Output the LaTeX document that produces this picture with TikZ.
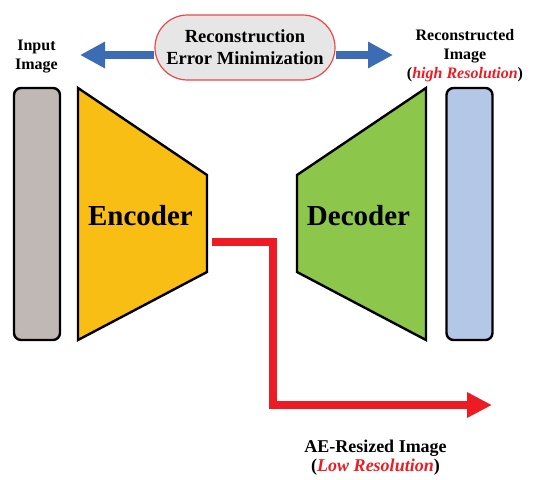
\documentclass[tikz,border=0pt]{standalone}
\usepackage{fontspec}
\setmainfont{Liberation Serif}
\usepackage{xcolor}
\usepackage{tikz}
\usetikzlibrary{positioning,arrows.meta,shapes.misc}

\definecolor{inpgray}{HTML}{BFB8B5}
\definecolor{outblue}{HTML}{B4C7E7}
\definecolor{encyellow}{HTML}{F9BE14}
\definecolor{decgreen}{HTML}{8CC64A}
\definecolor{errblue}{HTML}{3C6DB4}
\definecolor{lowred}{HTML}{ED1C24}
\definecolor{pillgray}{HTML}{E7E6E6}
\definecolor{pillred}{HTML}{E8474C}

\begin{document}
\begin{tikzpicture}[
  x=1pt, y=-1pt,
  every node/.style={align=center},
  img/.style    ={rectangle, rounded corners=7pt, draw=black, line width=2.4pt,
                  minimum width=46pt, minimum height=252pt},
  net/.style    ={draw=black, line width=2.4pt, line join=miter},
  lbl/.style    ={font=\fontsize{16}{19}\selectfont\bfseries},
  big/.style    ={font=\fontsize{29}{34}\selectfont\bfseries},
  pill/.style   ={rounded rectangle, draw=pillred, fill=pillgray, line width=1.2pt,
                  minimum width=180pt, minimum height=65pt, inner sep=0pt,
                  font=\fontsize{18.5}{22}\selectfont\bfseries},
  errarrow/.style={-{Triangle[length=25pt,width=25pt]}, line width=8.5pt, draw=errblue},
  outarrow/.style={-{Triangle[length=25pt,width=24pt]}, line width=8.5pt, draw=lowred,
                  line join=miter},
]
\useasboundingbox (0,0) rectangle (543,479);

% Input / output images
\node[img, fill=inpgray] (input) at (37,214)    {};
\node[img, fill=outblue] (recon) at (469.5,214) {};

% Encoder and decoder bodies
\draw[net, fill=encyellow] (78,88) -- (207,175) -- (207,272) -- (78,340) -- cycle;
\draw[net, fill=decgreen]  (426,88) -- (297,175) -- (297,272) -- (426,340) -- cycle;
\node[big, anchor=base] (enc) at (140.5,225) {Encoder};
\node[big, anchor=base] (dec) at (358.5,225) {Decoder};

% Labels (base = last line)
\node[lbl, anchor=base] (inlabel)  at (36.5,69) {Input\\Image};
\node[lbl, anchor=base] (outlabel) at (465,78)
  {Reconstructed\\Image\\(\textcolor{lowred}{\textit{high Resolution}})};

% Reconstruction error
\node[pill] (pill) at (245,47.5) {Reconstruction\\Error Minimization};
\coordinate (errL) at (80,55);
\coordinate (errR) at (393,55);
\draw[errarrow] (pill.west |- errL) -- (errL);
\draw[errarrow] (pill.east |- errR) -- (errR);

% Resized output
\coordinate (encout) at (212,242);
\coordinate (lowres) at (492,405);
\draw[outarrow] (encout) -- ++(61,0) |- (lowres);
\node[font=\fontsize{18}{19}\selectfont\bfseries, anchor=base] (aelabel) at (375.5,471)
  {AE-Resized Image\\(\textcolor{lowred}{\textit{Low Resolution}})};

\end{tikzpicture}
\end{document}
